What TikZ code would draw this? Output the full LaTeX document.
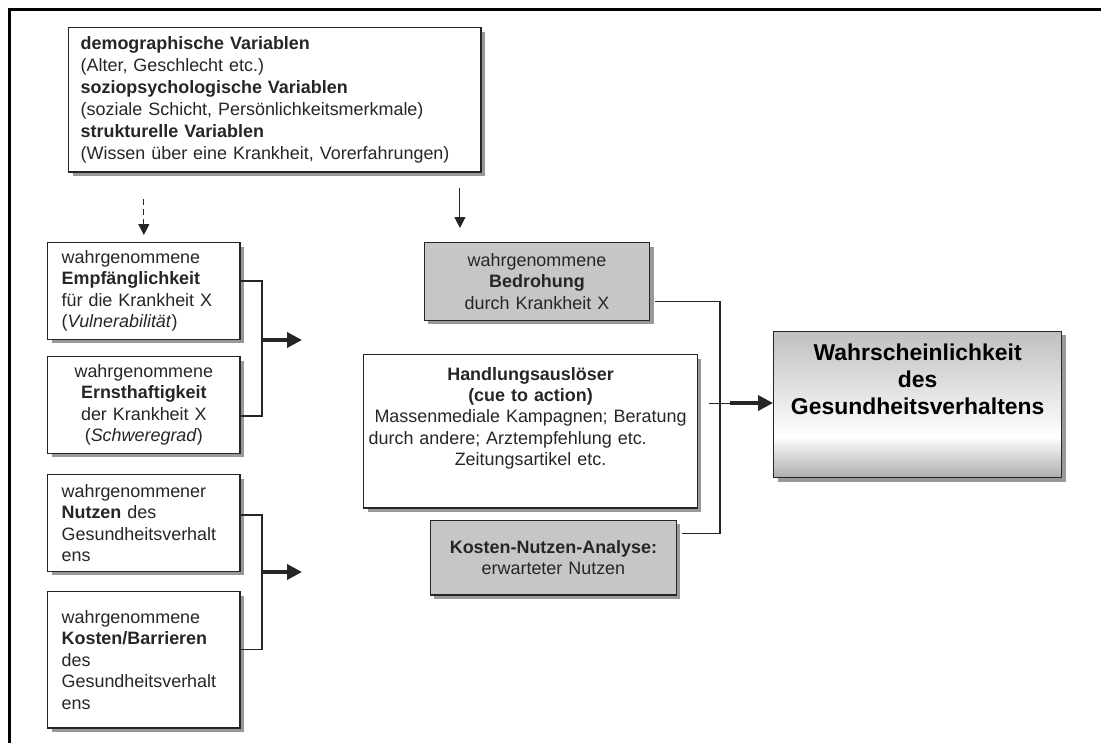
\documentclass[tikz,border=0pt]{standalone}
\usepackage{fontspec}
\setmainfont{Liberation Sans}
\usetikzlibrary{positioning,arrows.meta,shadows}
\pgfdeclareverticalshading{probfade}{100bp}{color(0bp)=(gray!65); color(25bp)=(gray!65); color(39bp)=(white); color(75bp)=(gray!50); color(100bp)=(gray!50)}

\begin{document}
\begin{tikzpicture}[x=1bp, y=-1bp,
    box/.style={draw=black!85, line width=1.4pt, fill=white, text=black!85,
                font=\fontsize{18}{21.5}\selectfont, inner xsep=14pt, inner ysep=4pt,
                drop shadow={shadow xshift=4pt, shadow yshift=-4pt, fill=black!40, opacity=1}},
    lbox/.style={box, text width=165pt, minimum height=97pt},
    gbox/.style={box, fill=gray!45, inner xsep=8pt},
    arr/.style={-{Triangle[length=11pt, width=11pt]}, line width=1pt, black!85},
    bigarr/.style={-{Triangle[length=15pt, width=15pt]}, line width=3.5pt, black!85},
    link/.style={line width=1.3pt, black!85},
    node distance=16pt
]
\useasboundingbox (0,0) rectangle (1101,743);
% frame
\fill (7.5,8.5) rectangle (10.5,743);
\fill (7.5,8.5) rectangle (1101,11.5);

% influencing variables
\node[box, anchor=north west, text width=390pt, inner xsep=12pt, minimum height=145pt,
      align=left, font=\fontsize{18}{22}\selectfont] (vars) at (68,27)
  {\textbf{demographische Variablen}\\
   (Alter, Geschlecht etc.)\\
   \textbf{soziopsychologische Variablen}\\
   (soziale Schicht, Persönlichkeitsmerkmale)\\
   \textbf{strukturelle Variablen}\\
   (Wissen über eine Krankheit, Vorerfahrungen)};

% perceptions, left column
\node[lbox, anchor=north west, align=left] (empf) at (47,242)
  {wahrgenommene\\ \textbf{Empfänglichkeit}\\ für die Krankheit X\\ (\textit{Vulnerabilität})};
\node[lbox, align=center, below=16pt of empf] (ernst)
  {wahrgenommene\\ \textbf{Ernsthaftigkeit}\\ der Krankheit X\\ (\textit{Schweregrad})};
\node[lbox, align=left, below=20pt of ernst] (nutzen)
  {wahrgenommener\\ \textbf{Nutzen} des\\ Gesundheitsverhalt\\ ens};
\node[lbox, align=left, minimum height=137pt, below=19pt of nutzen] (barr)
  {wahrgenommene\\ \textbf{Kosten/Barrieren}\\ des\\ Gesundheitsverhalt\\ ens};

% middle column
\node[gbox, anchor=north, text width=210pt, minimum height=78pt, align=center] (bedr) at (537,242)
  {wahrgenommene\\ \textbf{Bedrohung}\\ durch Krankheit X};
\node[box, text width=325pt, inner xsep=5pt, minimum height=154pt, align=center,
      below=33pt of bedr, xshift=-6.5pt] (cue)
  {\textbf{Handlungsauslöser}\\ \textbf{(cue to action)}\\
   Massenmediale Kampagnen; Beratung\\
   durch andere; Arztempfehlung etc.\hfill\null\\
   Zeitungsartikel etc.\rule[-30pt]{0pt}{30pt}};
\node[gbox, text width=231pt, minimum height=75pt, align=center,
      below=11pt of cue, xshift=23pt] (kn)
  {\textbf{Kosten-Nutzen-Analyse:}\\ erwarteter Nutzen};

% outcome
\node[box, anchor=west, text width=279pt, inner xsep=5pt, minimum height=147pt, align=center,
      shading=probfade, text=black,
      font=\fontsize{23}{27}\selectfont\bfseries] (prob) at (773,404.5)
  {Wahrscheinlichkeit\\ des\\ Gesundheitsverhaltens\rule[-50pt]{0pt}{50pt}};

% junctions
\coordinate (j1) at (262,340);
\coordinate (j2) at (262,572);
\coordinate (j3) at (720,403);
\coordinate (in1) at (302,340);
\coordinate (in2) at (302,572);
\coordinate (c3) at (709,403);
\coordinate (c4) at (730,403);

\draw[arr, dash pattern=on 6pt off 4pt, shorten <=26pt, shorten >=7pt]
  (vars.south -| empf.north) -- (empf.north);
\draw[arr, shorten <=15pt, shorten >=14pt]
  ([xshift=-22pt]vars.south east) -- ([xshift=-22pt]vars.south east |- bedr.north);

\draw[link] ([yshift=10pt]empf.east) -| (j1) |- ([yshift=-11pt]ernst.east);
\draw[bigarr] (j1) -- (in1);
\draw[link] ([xshift=-2pt,yshift=8pt]nutzen.east) -| (j2) |- ([yshift=10.5pt]barr.east);
\draw[bigarr] (j2) -- (in2);

\draw[link] ([xshift=5pt,yshift=-20pt]bedr.east) -| (j3) |- ([xshift=5pt,yshift=24.5pt]kn.east);
\draw[link, line width=1pt] (c3) -- (c4);
\draw[bigarr] (c4) -- (c4 -| prob.west);
\end{tikzpicture}
\end{document}
